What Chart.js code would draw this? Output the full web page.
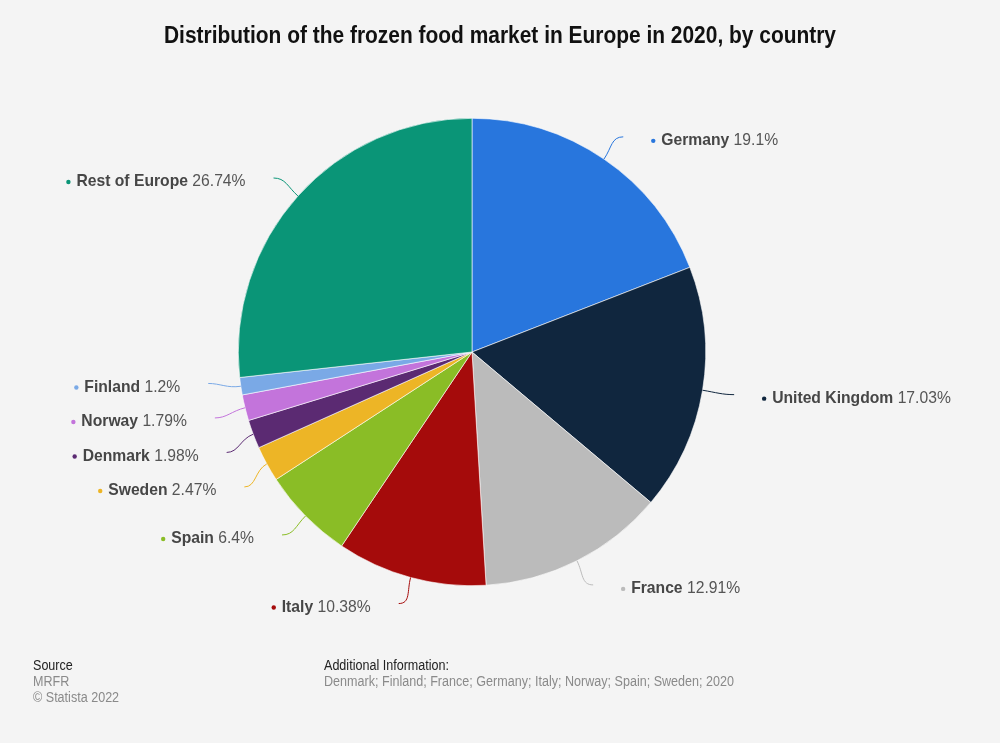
<!DOCTYPE html>
<html>
<head>
<meta charset="utf-8">
<script src="https://cdn.jsdelivr.net/npm/chart.js@4.4.0/dist/chart.umd.min.js"></script>
<style>
  html, body { margin: 0; padding: 0; background: #f4f4f4; }
  #wrap { position: relative; width: 1000px; height: 743px; overflow: hidden; }
  canvas { position: absolute; left: 0; top: 0; }
  .t { position: absolute; white-space: nowrap; }
  #title { left: 500px; top: 22px; font: bold 23px "Liberation Sans", Arial, sans-serif; color: #111; transform-origin: 0 0; }
  .foot { font: 14px "Liberation Sans", Arial, sans-serif; line-height: 16px; }
  .foot div { display: block; transform-origin: 0 0; }
  .head { color: #222; }
  .grey { color: #8a8a8a; }
</style>
</head>
<body>
<div id="wrap">
  <canvas id="c" width="1000" height="743"></canvas>
  <div id="title" class="t">Distribution of the frozen food market in Europe in 2020, by country</div>
  <div class="t foot" style="left:33px; top:657px;">
    <div class="head"><span>Source</span></div>
    <div class="grey"><span>MRFR</span></div>
    <div class="grey"><span>© Statista 2022</span></div>
  </div>
  <div class="t foot" style="left:324px; top:657px;">
    <div class="head" id="ai"><span>Additional Information:</span></div>
    <div class="grey" id="ail"><span>Denmark; Finland; France; Germany; Italy; Norway; Spain; Sweden; 2020</span></div>
  </div>
</div>
<script>
const categories = ['Germany', 'United Kingdom', 'France', 'Italy', 'Spain', 'Sweden', 'Denmark', 'Norway', 'Finland', 'Rest of Europe'];
const shares = [19.1, 17.03, 12.91, 10.38, 6.4, 2.47, 1.98, 1.79, 1.2, 26.74];
const valueLabels = ['19.1%', '17.03%', '12.91%', '10.38%', '6.4%', '2.47%', '1.98%', '1.79%', '1.2%', '26.74%'];
const colors = ['#2876dd', '#10263e', '#bbbbbb', '#a50b0b', '#8abd26', '#edb526', '#5b2a72', '#c374db', '#7aa9e6', '#0a9577'];

// condense text blocks horizontally to match the reference's narrow type
(function () {
  const title = document.getElementById('title');
  const tw = title.getBoundingClientRect().width;
  const ts = 672 / tw;
  title.style.transform = 'translateX(' + (-336) + 'px) scaleX(' + ts + ')';
  const long = document.querySelector('#ail span');
  const fs = 410 / long.getBoundingClientRect().width;
  document.querySelectorAll('.foot div').forEach(d => { d.style.transform = 'scaleX(' + fs + ')'; });
})();

function distribute(list, gap) {
  // weighted cluster centring: overlapping labels are spread around their weighted mean
  let clusters = list.map(it => ({ items: [it], w: it.w, sum: it.y0 * it.w }));
  let changed = true;
  const place = c => {
    const mean = c.sum / c.w;
    const n = c.items.length;
    c.top = mean - (n - 1) * gap / 2;
    c.bottom = c.top + (n - 1) * gap;
  };
  clusters.forEach(place);
  while (changed) {
    changed = false;
    for (let k = 1; k < clusters.length; k++) {
      if (clusters[k].top < clusters[k - 1].bottom + gap) {
        const a = clusters[k - 1], b = clusters[k];
        const m = { items: a.items.concat(b.items), w: a.w + b.w, sum: a.sum + b.sum };
        place(m);
        clusters.splice(k - 1, 2, m);
        changed = true;
        break;
      }
    }
  }
  clusters.forEach(c => c.items.forEach((it, j) => { it.y = c.top + j * gap; }));
}

const labelPlugin = {
  id: 'outerLabels',
  afterDatasetsDraw(chart) {
    const ctx = chart.ctx;
    const meta = chart.getDatasetMeta(0);
    const items = meta.data.map((arc, i) => {
      const p = arc.getProps(['x', 'y', 'startAngle', 'endAngle', 'outerRadius'], true);
      const mid = (p.startAngle + p.endAngle) / 2;
      const R = p.outerRadius;
      return {
        i, cx: p.x, cy: p.y, R, rx: R + 32, ry: R + 28, mid,
        ex: p.x + R * Math.cos(mid), ey: p.y + R * Math.sin(mid),
        y0: p.y + (R + 27) * Math.sin(mid),
        w: Math.sqrt(shares[i]),
        right: Math.cos(mid) >= 0
      };
    });
    [true, false].forEach(side => {
      const list = items.filter(it => it.right === side).sort((a, b) => a.y0 - b.y0);
      distribute(list, 34.5);
    });
    items.forEach(it => {
      let t = (it.y - it.cy) / it.ry;
      if (Math.abs(t) > 1) t = Math.sign(t);
      const dx = it.rx * Math.sqrt(1 - t * t);
      it.x = it.right ? it.cx + dx : it.cx - dx;
    });
    ctx.save();
    items.forEach(it => {
      const col = colors[it.i];
      ctx.beginPath();
      ctx.strokeStyle = col;
      ctx.lineWidth = 1;
      ctx.moveTo(it.ex, it.ey);
      const c1x = it.ex + Math.cos(it.mid) * 14, c1y = it.ey + Math.sin(it.mid) * 14;
      const c2x = it.right ? it.x - 12 : it.x + 12;
      ctx.bezierCurveTo(c1x, c1y, c2x, it.y, it.x, it.y);
      ctx.stroke();
      const ty = it.y + 4;
      ctx.textBaseline = 'middle';
      ctx.textAlign = 'left';
      const nameFont = 'bold 15.7px "Liberation Sans", Arial, sans-serif';
      const valFont = '15.7px "Liberation Sans", Arial, sans-serif';
      ctx.font = nameFont;
      const nameW = ctx.measureText(categories[it.i] + ' ').width;
      ctx.font = valFont;
      const valW = ctx.measureText(valueLabels[it.i]).width;
      const startX = it.right ? it.x + 38 : it.x - 28 - valW - nameW;
      ctx.fillStyle = col;
      ctx.beginPath();
      ctx.arc(startX - 8, ty, 2.2, 0, Math.PI * 2);
      ctx.fill();
      ctx.fillStyle = '#464646';
      ctx.font = nameFont;
      ctx.fillText(categories[it.i], startX, ty);
      ctx.fillStyle = '#555555';
      ctx.font = valFont;
      ctx.fillText(valueLabels[it.i], startX + nameW, ty);
    });
    ctx.restore();
  }
};

new Chart(document.getElementById('c'), {
  type: 'pie',
  data: {
    labels: categories,
    datasets: [{
      data: shares,
      backgroundColor: colors,
      borderColor: '#ffffff',
      borderWidth: 0.6
    }]
  },
  options: {
    responsive: false,
    animation: false,
    layout: { padding: { left: 238, right: 294, top: 118, bottom: 157 } },
    plugins: {
      legend: { display: false },
      tooltip: { enabled: false },
      title: { display: false }
    }
  },
  plugins: [labelPlugin]
});
</script>
</body>
</html>
